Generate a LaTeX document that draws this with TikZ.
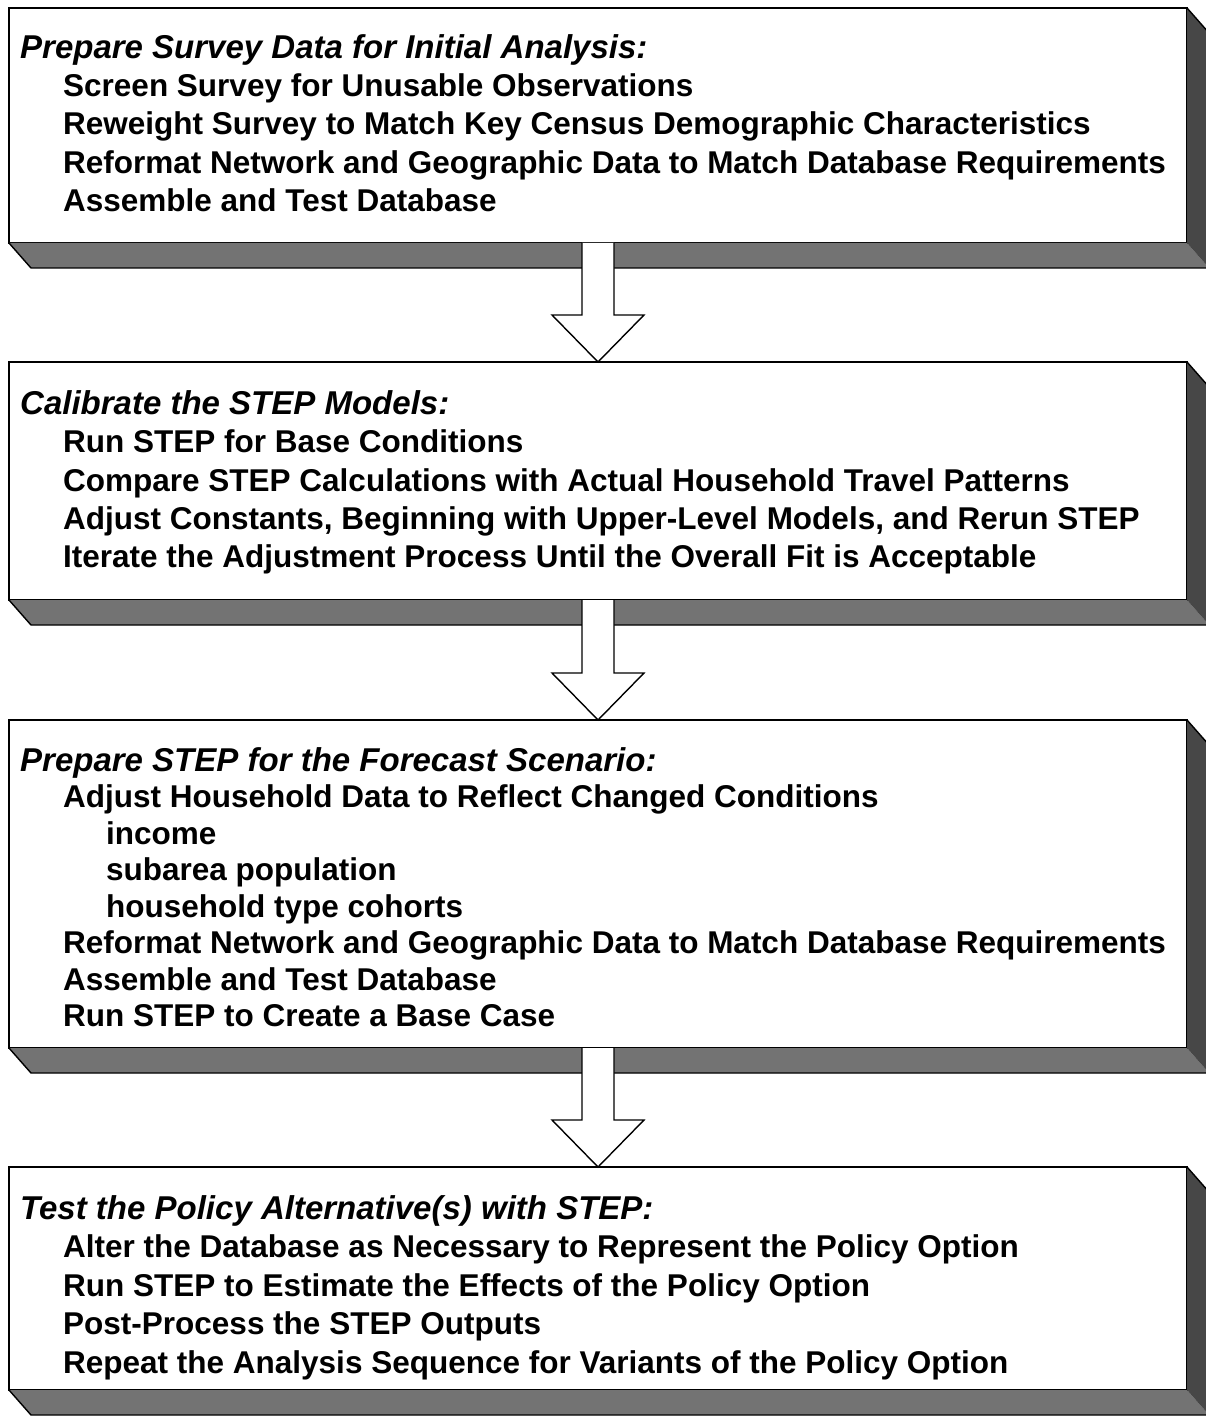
\documentclass[tikz,border=0pt]{standalone}
\usepackage{fontspec}
\setmainfont{Liberation Sans}
\usetikzlibrary{calc}
\newcommand{\hdrf}{\fontsize{33}{38}\selectfont\bfseries\itshape}
\newcommand{\itmf}{\fontsize{31.5}{36}\selectfont\bfseries}
\newcommand{\boxshadow}[1]{%
  \fill[shadeb] (#1.south west) -- ($(#1.south west)+(22,25)$) -- ($(#1.south east)+(22,25)$) -- (#1.south east) -- cycle;
  \fill[shader] (#1.north east) -- ($(#1.north east)+(22,25)$) -- ($(#1.south east)+(22,25)$) -- (#1.south east) -- cycle;
  \draw[shadeline] (#1.south west) -- ($(#1.south west)+(22,25)$) -- ($(#1.south east)+(22,25)$) -- ($(#1.north east)+(22,25)$) -- (#1.north east);
}
\newcommand{\blockarr}[2]{%
  \path[blockarrow] ($(#1.south)+(-16,0)$) -- ($(#2.north)+(-16,-47)$) -- ($(#2.north)+(-46,-47)$) -- (#2.north) -- ($(#2.north)+(46,-47)$) -- ($(#2.north)+(16,-47)$) -- ($(#1.south)+(16,0)$);
}
\begin{document}
\begin{tikzpicture}[x=1pt,y=-1pt,
  box/.style={draw=black,fill=white,line width=1.6pt,inner sep=0,outer sep=0,anchor=north west,minimum width=1178pt},
  hdr/.style={anchor=base west,inner sep=0,font=\hdrf},
  itm/.style={anchor=base west,inner sep=0,font=\itmf},
  shadeb/.style={fill=black!55},
  shader/.style={fill=black!72},
  shadeline/.style={draw=black,line width=1.4pt,line join=miter},
  blockarrow/.style={fill=white,draw=black,line width=1.4pt,line join=miter}]
\useasboundingbox (0,0) rectangle (1206,1420);
\clip (0,0) rectangle (1206,1420);
\fill[white] (0,0) rectangle (1206,1420);

% boxes
\node[box,minimum height=235pt] (b1) at (9,8) {};
\node[box,minimum height=238pt] (b2) at (9,362) {};
\node[box,minimum height=328pt] (b3) at (9,720) {};
\node[box,minimum height=223pt] (b4) at (9,1167) {};

\boxshadow{b1}
\boxshadow{b2}
\boxshadow{b3}
\boxshadow{b4}

\blockarr{b1}{b2}
\blockarr{b2}{b3}
\blockarr{b3}{b4}

% box 1
\node[hdr] (h1) at (20,59) {Prepare Survey Data for Initial Analysis:};
\node[itm] (a11) at (63,97) {Screen Survey for Unusable Observations};
\node[itm] (a12) at (63,135) {Reweight Survey to Match Key Census Demographic Characteristics};
\node[itm] (a13) at (63,174) {Reformat Network and Geographic Data to Match Database Requirements};
\node[itm] (a14) at (63,212) {Assemble and Test Database};

% box 2
\node[hdr] (h2) at (20,414) {Calibrate the STEP Models:};
\node[itm] (a21) at (63,452) {Run STEP for Base Conditions};
\node[itm] (a22) at (63,491) {Compare STEP Calculations with Actual Household Travel Patterns};
\node[itm] (a23) at (63,529) {Adjust Constants, Beginning with Upper-Level Models, and Rerun STEP};
\node[itm] (a24) at (63,567) {Iterate the Adjustment Process Until the Overall Fit is Acceptable};

% box 3
\node[hdr] (h3) at (20,771) {Prepare STEP for the Forecast Scenario:};
\node[itm] (a31) at (63,807) {Adjust Household Data to Reflect Changed Conditions};
\node[itm] (a32) at (106,844) {income};
\node[itm] (a33) at (106,880) {subarea population};
\node[itm] (a34) at (106,917) {household type cohorts};
\node[itm] (a35) at (63,953) {Reformat Network and Geographic Data to Match Database Requirements};
\node[itm] (a36) at (63,990) {Assemble and Test Database};
\node[itm] (a37) at (63,1026) {Run STEP to Create a Base Case};

% box 4
\node[hdr] (h4) at (20,1219) {Test the Policy Alternative(s) with STEP:};
\node[itm] (a41) at (63,1257) {Alter the Database as Necessary to Represent the Policy Option};
\node[itm] (a42) at (63,1296) {Run STEP to Estimate the Effects of the Policy Option};
\node[itm] (a43) at (63,1334) {Post-Process the STEP Outputs};
\node[itm] (a44) at (63,1373) {Repeat the Analysis Sequence for Variants of the Policy Option};
\end{tikzpicture}
\end{document}
